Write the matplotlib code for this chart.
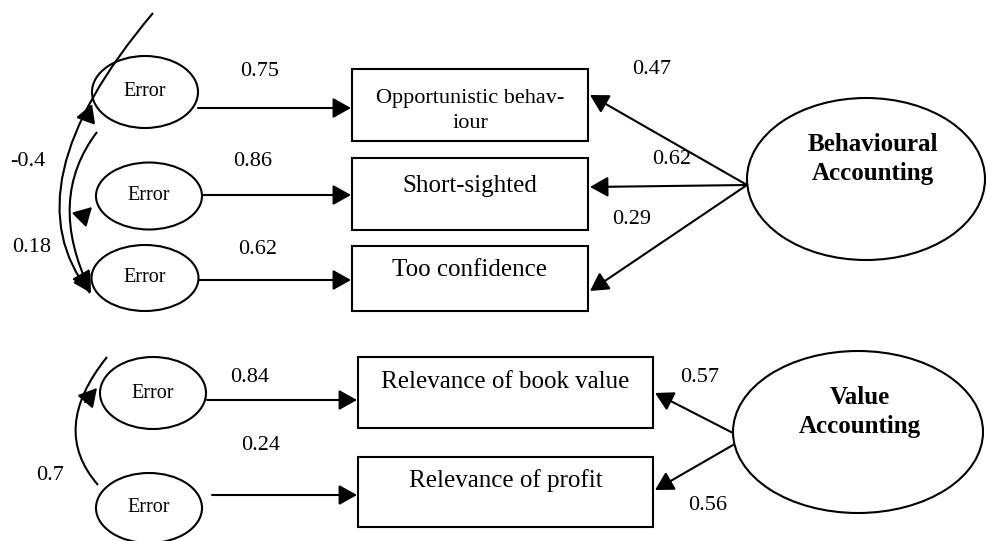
import matplotlib
matplotlib.use("Agg")
import matplotlib.pyplot as plt
from matplotlib.patches import Ellipse, Rectangle, PathPatch
from matplotlib.path import Path

# ---- data ----
indicators = ["Opportunistic behav-\niour", "Short-sighted", "Too confidence",
              "Relevance of book value", "Relevance of profit"]
error_paths = ["0.75", "0.86", "0.62", "0.84", "0.24"]
loadings = ["0.47", "0.62", "0.29", "0.57", "0.56"]
covariances = ["-0.4", "0.18", "0.7"]
latents = ["Behavioural\nAccounting", "Value\nAccounting"]

# ---- layout (pixel coords, y down) ----
err_centers = [(145, 92), (149, 196), (145, 278), (153, 393), (149, 508)]
err_sizes = [(106, 72), (106, 67), (107, 66), (106, 72), (106, 70)]
err_arrows = [(198, 108), (202, 195), (199, 280), (207, 400), (212, 495)]
boxes = [(352, 69, 236, 72), (352, 158, 236, 72), (352, 246, 236, 65),
         (358, 357, 295, 71), (358, 457, 295, 70)]
box_text_y = [111, 186, 270, 382, 481]
box_font = [16, 18, 18, 18, 18]
err_lab_pos = [(260, 72), (253, 162), (258, 250), (250, 377), (261, 445)]
load_lab_pos = [(652, 70), (672, 160), (632, 220), (700, 377), (708, 505)]
load_from = [(747, 185), (747, 185), (747, 185), (733, 433), (733, 445)]
load_to = [(590, 95), (590, 187), (590, 291), (655, 393), (655, 490)]
cov_lab_pos = [(28, 162), (32, 248), (50, 475)]
lat_centers = [(866, 179), (858, 432)]
lat_sizes = [(238, 162), (250, 162)]
lat_text = [(873, 159), (860, 412)]

serif = "Liberation Serif"
lw = 1.5
ah = dict(arrowstyle="-|>,head_length=0.5,head_width=0.28", color="black", lw=lw,
          mutation_scale=22, shrinkA=0, shrinkB=0)

fig = plt.figure(figsize=(9.87, 5.41), dpi=100)
ax = fig.add_axes([0, 0, 1, 1])
ax.set_xlim(0, 987)
ax.set_ylim(541, 0)
ax.axis("off")

for (cx, cy), (w, h), (x0, y0) in zip(err_centers, err_sizes, err_arrows):
    ax.add_patch(Ellipse((cx, cy), w, h, fill=False, lw=lw, ec="black"))
    ax.text(cx, cy, "Error", ha="center", va="center", fontsize=14.5, family=serif)
for (bx, by, bw, bh), name, ty, fs in zip(boxes, indicators, box_text_y, box_font):
    ax.add_patch(Rectangle((bx, by), bw, bh, fill=False, lw=lw, ec="black"))
    ax.text(bx + bw / 2, ty, name, ha="center", va="center", fontsize=fs,
            family=serif, linespacing=1.45)
for (x0, y0), (bx, by, bw, bh) in zip(err_arrows, boxes):
    ax.annotate("", xy=(bx - 1, y0), xytext=(x0, y0), arrowprops=ah)
for lab, (x, y) in zip(error_paths, err_lab_pos):
    ax.text(x, y, lab, ha="center", va="center", fontsize=16, family=serif)

for (cx, cy), (w, h), name, (tx, ty) in zip(lat_centers, lat_sizes, latents, lat_text):
    ax.add_patch(Ellipse((cx, cy), w, h, fill=False, lw=lw, ec="black"))
    ax.text(tx, ty, name, ha="center", va="center", fontsize=18,
            family=serif, weight="bold", linespacing=1.3)
for a, b in zip(load_from, load_to):
    ax.annotate("", xy=b, xytext=a, arrowprops=ah)
for lab, (x, y) in zip(loadings, load_lab_pos):
    ax.text(x, y, lab, ha="center", va="center", fontsize=16, family=serif)

# covariance curves
curves = [((153, 13), (6, 187), (90, 293)),
          ((97, 132), (46, 199), (90, 290)),
          ((98, 485), (49, 429), (107, 357))]
for p0, c, p2 in curves:
    path = Path([p0, c, p2], [Path.MOVETO, Path.CURVE3, Path.CURVE3])
    ax.add_patch(PathPatch(path, fill=False, lw=lw, ec="black"))
# arrowheads on the curves
heads = [((82, 278), (91, 293)), ((82, 276), (90, 290)),
         ((86, 120), (92, 104)), ((81, 218), (92, 207)), ((85, 402), (97, 388))]
for tail, tip in heads:
    ax.annotate("", xy=tip, xytext=tail, arrowprops=ah)
for lab, (x, y) in zip(covariances, cov_lab_pos):
    ax.text(x, y, lab, ha="center", va="center", fontsize=16, family=serif)

fig.savefig("out.png", dpi=100)
